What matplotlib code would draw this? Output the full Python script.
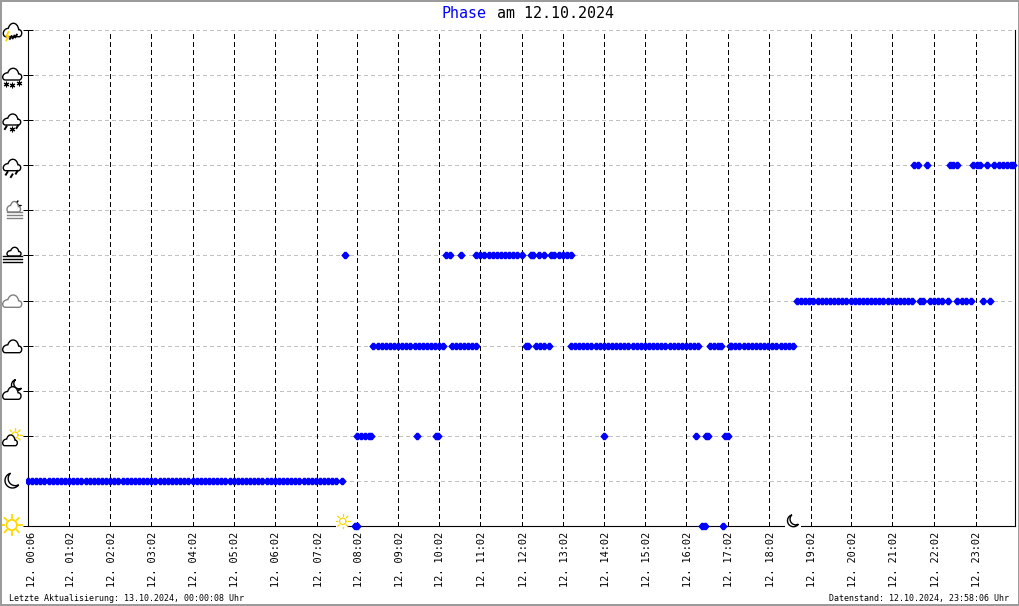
import numpy as np
import matplotlib
matplotlib.use('Agg')
import matplotlib.pyplot as plt
from matplotlib.path import Path
from matplotlib.patches import PathPatch, Rectangle
from matplotlib.transforms import ScaledTranslation

# x is in 6 minute sample steps, y is the phase level
hour_ticks = [0.5, 9.97, 19.94, 29.9, 40, 49.97, 59.94, 70.3, 80, 90, 99.9, 110, 120.2, 130.1,
              140.1, 150.15, 160.1, 170.1, 180.3, 190.3, 200.2, 210.2, 220.4, 230.4]
hour_labels = ['00:06', '01:02', '02:02', '03:02', '04:02', '05:02', '06:02', '07:02',
               '08:02', '09:02', '10:02', '11:02', '12:02', '13:02', '14:02', '15:02',
               '16:02', '17:02', '18:02', '19:02', '20:02', '21:02', '22:02', '23:02']

clear_x = [79.5, 80, 164, 164.6, 169]
moon_x = [0, 1, 2, 3, 4, 5, 6, 7, 8, 9, 10, 11, 12, 13, 14, 15, 16, 17, 18, 19, 20, 21, 22, 23, 24, 25,
          26, 27, 28, 29, 30, 31, 32, 33, 34, 35, 36, 37, 38, 39, 40, 41, 42, 43, 44, 45, 46, 47, 48,
          49, 50, 51, 52, 53, 54, 55, 56, 57, 58, 59, 60, 61, 62, 63, 64, 65, 66, 67, 68, 69, 70, 71,
          72, 73, 74, 75, 76.4]
few_clouds_x = [80, 81, 82, 83, 83.4, 94.7, 99.2, 99.7, 140, 162.5, 164.8, 165.3, 169.4, 170.1]
cloudy_x = [84, 85, 86, 87, 88, 89, 90, 91, 92, 93, 94, 95, 96, 97, 98, 99, 100, 101,
            103, 104, 105, 106, 107, 108, 109, 121, 121.6, 123.5, 124.5, 125.5, 126.7,
            132, 133, 134, 135, 136, 137, 138, 139, 140, 141, 142, 143, 144, 145, 146, 147, 148,
            149, 150, 151, 152, 153, 154, 155, 156, 157, 158, 159, 160, 161, 162, 163,
            165.8, 166.8, 167.8, 168.4, 170.6, 171, 172, 173, 174, 175, 176, 177, 178, 179, 180,
            181, 182, 183, 184, 185, 186]
overcast_x = [187, 188, 189, 190, 191, 192, 193, 194, 195, 196, 197, 198, 199, 200, 201, 202, 203,
              204, 205, 206, 207, 208, 209, 210, 211, 212, 213, 214, 215, 216.9, 217.6,
              219.3, 220.3, 221.3, 222.3, 223.7, 226, 227, 228, 229.3, 232.2, 234]
fog_x = [77, 101.6, 102.7, 105.2, 109, 110, 111, 112, 113, 114, 115, 116, 117, 118, 119, 120,
         122.2, 122.8, 124.3, 125.4, 127.2, 128, 129, 130, 131, 132]
rain_x = [215.4, 216.4, 218.6, 224.2, 225, 225.9, 229.7, 230.8, 231.6, 233.3,
          235, 236, 237, 238, 239, 239.6]

levels = [0, 1, 2, 4, 5, 6, 8]
series = [clear_x, moon_x, few_clouds_x, cloudy_x, overcast_x, fog_x, rain_x]

W, H = 1020, 606
LEFT, RIGHT, TOP, BOTTOM = 28, 1015, 30, 526
YELLOW = '#ffd700'

# blocky diamond, the old chart has a pixel marker
blocky = Path([(-4.2, 0), (-1, 3.7), (1, 3.7), (4.2, 0), (1, -3.7), (-1, -3.7), (-4.2, 0)],
              closed=True)

fig = plt.figure(figsize=(W / 100, H / 100), dpi=100)
ax = fig.add_axes([LEFT / W, 1 - BOTTOM / H, (RIGHT - LEFT) / W, (BOTTOM - TOP) / H])
ax.set_xlim(0, 240)
ax.set_ylim(0, 11)

ax.set_yticks(range(12))
ax.set_yticklabels([])
ax.tick_params(axis='y', direction='inout', length=6.5, width=0.72, color='black')
ax.set_xticks(hour_ticks)
ax.set_xticklabels(['12. ' + h for h in hour_labels], rotation=90, family='DejaVu Sans Mono',
                   fontsize=7.4)
ax.tick_params(axis='x', length=0, pad=4)
for label in ax.get_xticklabels():
    label.set_transform(label.get_transform() + ScaledTranslation(0.016, 0, fig.dpi_scale_trans))

for lev in range(1, 12):
    ax.axhline(lev, color='#c2c2c2', lw=0.72, dashes=(3, 3), antialiased=False, zorder=1)
ax.vlines(hour_ticks[1:], 0, 11, color='black', lw=0.72, linestyles=[(0, (5, 3.5))],
          antialiased=False, zorder=1)

for lev, xs in zip(levels, series):
    ax.plot(xs, [lev] * len(xs), ls='none', marker=blocky, ms=6.1, mew=0, color='#0000ff',
            antialiased=False, clip_on=False, zorder=3)

ax.spines['top'].set_visible(False)
for side in ['left', 'bottom', 'right']:
    ax.spines[side].set_linewidth(0.8)

# the icons and the page frame are drawn in pixel coordinates
over = fig.add_axes([0, 0, 1, 1])
over.set_xlim(0, W)
over.set_ylim(H, 0)
over.axis('off')
over.patch.set_alpha(0)


def cloud(x0, x1, y0, y1, color='black', lw=1.0):
    pts = [(0.14, 0), (0.86, 0), (0.94, 0), (1, 0.12), (1, 0.27), (1, 0.42), (0.94, 0.52), (0.84, 0.52),
           (0.8, 0.85), (0.68, 1), (0.55, 1), (0.42, 1), (0.32, 0.86), (0.27, 0.62),
           (0.12, 0.62), (0, 0.45), (0, 0.25), (0, 0.1), (0.06, 0), (0.14, 0)]
    codes = [Path.MOVETO, Path.LINETO] + [Path.CURVE4] * 18
    xy = [(x0 + u * (x1 - x0), y1 - v * (y1 - y0)) for u, v in pts]
    over.add_patch(PathPatch(Path(xy, codes), fc='white', ec=color, lw=lw, zorder=6))


def sun(cx, cy, r, ray, lw=1.2):
    t = np.linspace(0, 2 * np.pi, 60)
    over.plot(cx + r * np.cos(t), cy + r * np.sin(t), color=YELLOW, lw=lw, zorder=5)
    for a in np.arange(8) * np.pi / 4:
        over.plot([cx + (r + 2) * np.cos(a), cx + ray * np.cos(a)],
                  [cy + (r + 2) * np.sin(a), cy + ray * np.sin(a)],
                  color=YELLOW, lw=lw, zorder=5)


def moon(cx, cy, r, lw=1.0, facing=35):
    # crescent opening to the upper right
    face = np.radians(facing)
    half = np.radians(70)
    t = np.linspace(face + half, face + 2 * np.pi - half, 40)
    d = 0.45 * r
    ix, iy = d * np.cos(face), d * np.sin(face)
    a1 = np.arctan2(r * np.sin(face - half) - iy, r * np.cos(face - half) - ix)
    a2 = np.arctan2(r * np.sin(face + half) - iy, r * np.cos(face + half) - ix)
    if a2 > a1:
        a1 += 2 * np.pi
    t2 = np.linspace(a1, a2, 40)
    ri = np.hypot(r * np.cos(face - half) - ix, r * np.sin(face - half) - iy)
    x = np.r_[cx + r * np.cos(t), cx + ix + ri * np.cos(t2)]
    y = np.r_[cy - r * np.sin(t), cy - iy - ri * np.sin(t2)]
    over.fill(x, y, fc='white', ec='black', lw=lw, zorder=6)


def drops(points, color='black'):
    for x, y in points:
        over.plot([x + 0.8, x - 0.8], [y - 1.3, y + 1.3], color=color, lw=1.4, zorder=7)


def flakes(points):
    for x, y in points:
        over.plot([x], [y], marker=(6, 2), ms=4, mew=0.8, color='black', zorder=7)


def fog_lines(x0, x1, ys, color='black'):
    for y in ys:
        over.plot([x0, x1], [y, y], color=color, lw=1.0, zorder=7)


over.add_patch(Rectangle((3, 472), 23, 18, fc='white', ec='none', zorder=4))
sun(11.7, 525, 5.2, 10, lw=1.3)
moon(12.5, 480.5, 7.5)
sun(15, 435, 3, 7, lw=0.9)
cloud(2.7, 17.3, 435, 445.7)
moon(17, 385, 5.5)
cloud(2.7, 21, 386.7, 399.3)
cloud(2.7, 21.7, 340, 352.7)
cloud(2.7, 21.7, 295, 307.3, color='#808080')
cloud(7, 21, 247.3, 256)
fog_lines(3.3, 21.7, [255.7, 259, 262.3])
moon(19, 203.5, 2.8, lw=0.7)
cloud(7, 20.5, 201.5, 212, color='#808080')
fog_lines(6.7, 21.7, [211.7, 215, 218.3], color='#808080')
cloud(3.3, 20.7, 159.3, 170.7)
drops([(6.7, 173.3), (11.7, 175.7), (16.7, 172.3)])
cloud(3, 20.7, 114, 125)
drops([(5.7, 127.7), (17.3, 126.7)])
flakes([(11.7, 129.3)])
cloud(2.7, 21.7, 68.3, 80)
flakes([(6, 84), (12.3, 85.3), (18.7, 83.3)])
cloud(3.3, 21.7, 23.3, 36.7)
over.plot([8.5, 6.3, 8.5, 6.3], [32, 36, 36, 40.5], color=YELLOW, lw=1.3, zorder=7)
drops([(10.7, 37.5), (13.5, 37), (16, 36)])

# sunrise and sunset with their gap in the bottom axis
over.add_patch(Rectangle((336.5, 513), 10.5, 15, fc='white', ec='none', zorder=4))
sun(342.7, 521.3, 3.2, 7, lw=0.9)
over.add_patch(Rectangle((785, 513), 16, 15, fc='white', ec='none', zorder=4))
moon(793.5, 520.7, 6)

# page frame
over.add_patch(Rectangle((0.5, 0.5), W - 1.5, H - 1.5, fc='none', ec='#999999', lw=1.4, zorder=8))

mono = 'DejaVu Sans Mono'
over.text(442, 13, 'Phase', color='#0000ff', family=mono, fontsize=10.8, va='center')
over.text(497, 13, 'am 12.10.2024', color='black', family=mono, fontsize=10.8, va='center')
over.text(9, 598.5, 'Letzte Aktualisierung: 13.10.2024, 00:00:08 Uhr', family=mono, fontsize=6,
          va='center')
over.text(1009, 598.5, 'Datenstand: 12.10.2024, 23:58:06 Uhr', family=mono, fontsize=6,
          va='center', ha='right')

fig.savefig('out.png', dpi=100)
